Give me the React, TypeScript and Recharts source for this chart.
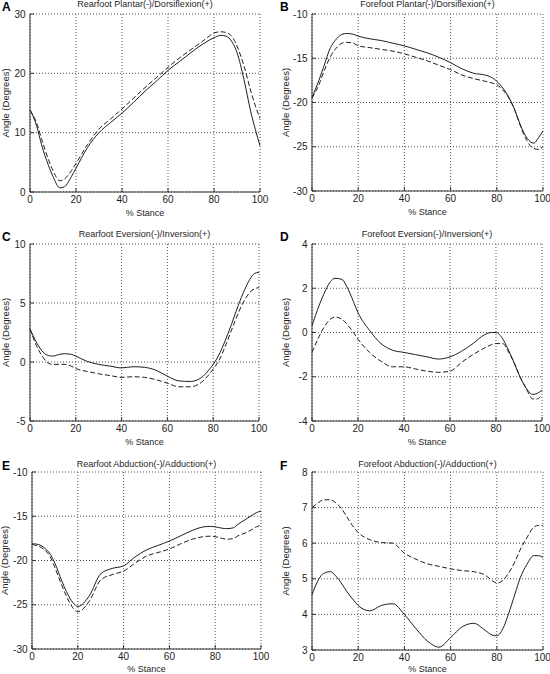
import { LineChart, Line, XAxis, YAxis, CartesianGrid } from 'recharts'

const FONT = '"Liberation Sans", Arial, Helvetica, sans-serif'
const INK = '#1e1e1e'
const FRAME = '#333'
const GRID = '#555'

// % stance sample points shared by every panel
const stance = [0, 3, 5, 8, 10, 13, 15, 18, 20, 25, 30, 35, 40, 45, 50, 55, 60, 65, 70, 75, 78, 80, 83, 85, 88, 90, 93, 96, 98, 100]
const xTicks = [0, 20, 40, 60, 80, 100]

// A - rearfoot plantar/dorsiflexion
const rearSagSolid = [13.9, 11, 8, 4.5, 2.6, 0.7, 0.9, 2.6, 4, 7.5, 10, 11.7, 13.3, 15.1, 17, 18.7, 20.5, 22, 23.5, 24.9, 25.6, 26, 26.4, 26.3, 25.2, 23.5, 19, 13.5, 10.5, 7.8]
const rearSagDashed = [13.8, 11.5, 9, 5.5, 3.6, 1.9, 2.2, 3.6, 4.8, 8, 10.6, 12.3, 14, 15.8, 17.6, 19.3, 21, 22.6, 24, 25.4, 26.3, 26.8, 27, 26.9, 26.1, 24.6, 21.3, 17, 14.5, 12.4]

// B - forefoot plantar/dorsiflexion
const foreSagSolid = [-19.4, -17.5, -16, -13.8, -13, -12.3, -12.2, -12.3, -12.5, -12.8, -13, -13.3, -13.6, -14, -14.4, -14.9, -15.5, -16.2, -16.7, -16.9, -17.2, -17.6, -18.5, -19.3, -21, -22.4, -24, -24.6, -24, -23.2]
const foreSagDashed = [-19.5, -18, -16.6, -14.8, -14, -13.3, -13.2, -13.3, -13.6, -13.8, -14, -14.2, -14.5, -14.9, -15.3, -15.8, -16.3, -16.9, -17.3, -17.6, -17.8, -18, -18.7, -19.4, -21, -22.5, -24.3, -25.2, -25.3, -25]

// C - rearfoot eversion/inversion
const rearFrontSolid = [2.8, 1.6, 1.0, 0.55, 0.5, 0.65, 0.7, 0.65, 0.5, 0.05, -0.2, -0.35, -0.5, -0.4, -0.45, -0.7, -1.2, -1.6, -1.65, -1.3, -0.7, -0.2, 0.8, 1.7, 3.2, 4.3, 5.8, 7, 7.5, 7.6]
const rearFrontDashed = [2.8, 1.3, 0.6, -0.1, -0.2, -0.2, -0.2, -0.35, -0.55, -0.8, -1.0, -1.15, -1.3, -1.25, -1.3, -1.5, -1.8, -2.1, -2.1, -1.7, -1.1, -0.6, 0.3, 1.2, 2.7, 3.7, 5.0, 5.9, 6.2, 6.3]

// D - forefoot eversion/inversion
const foreFrontSolid = [0.3, 1.2, 1.7, 2.3, 2.45, 2.4, 2.1, 1.4, 0.9, 0.1, -0.5, -0.8, -0.9, -1.0, -1.1, -1.2, -1.1, -0.85, -0.5, -0.1, 0, 0, -0.3, -0.7, -1.4, -1.9, -2.5, -2.8, -2.75, -2.6]
const foreFrontDashed = [-0.9, -0.2, 0.2, 0.6, 0.7, 0.6, 0.4, 0.0, -0.3, -0.9, -1.3, -1.55, -1.55, -1.65, -1.75, -1.8, -1.75, -1.35, -1.0, -0.7, -0.55, -0.5, -0.5, -0.8, -1.4, -1.9, -2.5, -3.0, -3.0, -2.8]

// E - rearfoot abduction/adduction
const rearTransSolid = [-18.1, -18.2, -18.5, -19.3, -20.3, -22.3, -23.5, -24.8, -25.2, -24, -21.5, -20.9, -20.6, -19.6, -18.8, -18.3, -17.8, -17.2, -16.6, -16.2, -16.15, -16.2, -16.35, -16.4, -16.3, -15.9, -15.4, -14.9, -14.6, -14.4]
const rearTransDashed = [-18.2, -18.4, -18.7, -19.6, -20.8, -22.8, -24, -25.4, -25.8, -24.6, -22.2, -21.6, -21.2, -20.3, -19.5, -19.1, -18.7, -18.1, -17.6, -17.3, -17.25, -17.3, -17.5, -17.6, -17.5, -17.2, -16.9, -16.5, -16.2, -16.0]

// F - forefoot abduction/adduction
const foreTransSolid = [4.55, 5.0, 5.15, 5.2, 5.1, 4.85, 4.65, 4.4, 4.25, 4.1, 4.25, 4.3, 4.0, 3.6, 3.25, 3.08, 3.35, 3.65, 3.75, 3.55, 3.42, 3.4, 3.65, 4.0, 4.6, 5.0, 5.4, 5.65, 5.65, 5.6]
const foreTransDashed = [7.0, 7.15, 7.22, 7.22, 7.15, 6.95, 6.75, 6.45, 6.3, 6.1, 6.02, 6.0, 5.72, 5.55, 5.42, 5.35, 5.28, 5.23, 5.2, 5.1, 4.95, 4.88, 4.98, 5.15, 5.5, 5.8, 6.15, 6.45, 6.5, 6.5]

const panels = [
  { letter: 'A', title: 'Rearfoot Plantar(-)/Dorsiflexion(+)', col: 0, plot: [30, 14, 260, 192], yTicks: [0, 10, 20, 30], solid: rearSagSolid, dashed: rearSagDashed, labelX: 5.5, titleGap: 9.5, letterGap: 7, stanceOffset: 2 },
  { letter: 'B', title: 'Forefoot Plantar(-)/Dorsiflexion(+)', col: 1, plot: [312, 14, 543, 191], yTicks: [-30, -25, -20, -15, -10], solid: foreSagSolid, dashed: foreSagDashed, labelX: 10.5, titleGap: 9.5, letterGap: 7, stanceOffset: 2 },
  { letter: 'C', title: 'Rearfoot Eversion(-)/Inversion(+)', col: 0, plot: [30, 244, 259, 421], yTicks: [-5, 0, 5, 10], solid: rearFrontSolid, dashed: rearFrontDashed, labelX: 6, titleGap: 9.5, letterGap: 7, stanceOffset: 2 },
  { letter: 'D', title: 'Forefoot Eversion(-)/Inversion(+)', col: 1, plot: [312, 244, 542, 421], yTicks: [-4, -2, 0, 2, 4], solid: foreFrontSolid, dashed: foreFrontDashed, labelX: 10.5, titleGap: 9.5, letterGap: 7, stanceOffset: 2 },
  { letter: 'E', title: 'Rearfoot Abduction(-)/Adduction(+)', col: 0, plot: [32, 472, 261, 649], yTicks: [-30, -25, -20, -15, -10], solid: rearTransSolid, dashed: rearTransDashed, labelX: 5, titleGap: 7.5, letterGap: 6, stanceOffset: 3.5 },
  { letter: 'F', title: 'Forefoot Abduction(-)/Adduction(+)', col: 1, plot: [312, 472, 543, 650], yTicks: [3, 4, 5, 6, 7, 8], solid: foreTransSolid, dashed: foreTransDashed, labelX: 10.5, titleGap: 7.5, letterGap: 6, stanceOffset: 4 },
]

const tickStyle = { fill: INK, fontSize: 10, fontFamily: FONT }
const noLabel = () => ''

function Panel({ cfg }) {
  const [x0, y0, x1, y1] = cfg.plot
  const left = cfg.col * 275
  const top = y0 - 20
  const width = 275
  const height = y1 - y0 + 50
  const yDomain = [cfg.yTicks[0], cfg.yTicks[cfg.yTicks.length - 1]]
  const data = stance.map((x, i) => ({ x, solid: cfg.solid[i], dashed: cfg.dashed[i] }))

  return (
    <div style={{ position: 'absolute', left, top, width, height }}>
      <div
        style={{
          position: 'absolute',
          left: cfg.col ? 5 : 2,
          top: 20 - cfg.letterGap - 6,
          fontFamily: FONT,
          fontWeight: 'bold',
          fontSize: 12,
          lineHeight: '12px',
          color: '#000',
        }}
      >
        {cfg.letter}
      </div>
      <div
        style={{
          position: 'absolute',
          left: x0 - left,
          width: x1 - x0,
          top: 20 - cfg.titleGap - 4.5,
          textAlign: 'center',
          fontFamily: FONT,
          fontSize: 9,
          lineHeight: '9px',
          color: INK,
          whiteSpace: 'nowrap',
        }}
      >
        {cfg.title}
      </div>
      <LineChart
        width={width}
        height={height}
        data={data}
        margin={{ top: 20, right: left + width - x1, bottom: 4, left: 0 }}
      >
        <CartesianGrid stroke={GRID} strokeDasharray="1 2" />
        <XAxis
          dataKey="x"
          type="number"
          domain={[0, 100]}
          ticks={xTicks}
          height={26}
          stroke={FRAME}
          tickSize={-4}
          tickMargin={8}
          tick={tickStyle}
          label={{ value: '% Stance', position: 'insideBottom', offset: cfg.stanceOffset, fill: INK, fontSize: 9, fontFamily: FONT }}
        />
        <XAxis
          xAxisId="top"
          orientation="top"
          type="number"
          domain={[0, 100]}
          ticks={xTicks}
          height={0}
          stroke={FRAME}
          tickSize={-4}
          tickFormatter={noLabel}
        />
        <YAxis
          type="number"
          domain={yDomain}
          ticks={cfg.yTicks}
          width={x0 - left}
          stroke={FRAME}
          tickSize={-4}
          tickMargin={8.5}
          tick={tickStyle}
          label={{
            value: 'Angle (Degrees)',
            angle: -90,
            position: 'insideLeft',
            offset: cfg.labelX,
            fill: INK,
            fontSize: 9.5,
            fontFamily: FONT,
            style: { textAnchor: 'middle' },
          }}
        />
        <YAxis
          yAxisId="right"
          orientation="right"
          type="number"
          domain={yDomain}
          ticks={cfg.yTicks}
          width={0}
          stroke={FRAME}
          tickSize={-4}
          tickFormatter={noLabel}
        />
        <Line type="monotone" dataKey="dashed" stroke={INK} strokeWidth={1} strokeDasharray="5 2.5" dot={false} isAnimationActive={false} />
        <Line type="monotone" dataKey="solid" stroke={INK} strokeWidth={1} dot={false} isAnimationActive={false} />
      </LineChart>
    </div>
  )
}

export default function App() {
  return (
    <div style={{ position: 'absolute', left: 0, top: 0, width: 550, height: 674, background: '#fff' }}>
      {panels.map(p => (
        <Panel key={p.letter} cfg={p} />
      ))}
    </div>
  )
}
